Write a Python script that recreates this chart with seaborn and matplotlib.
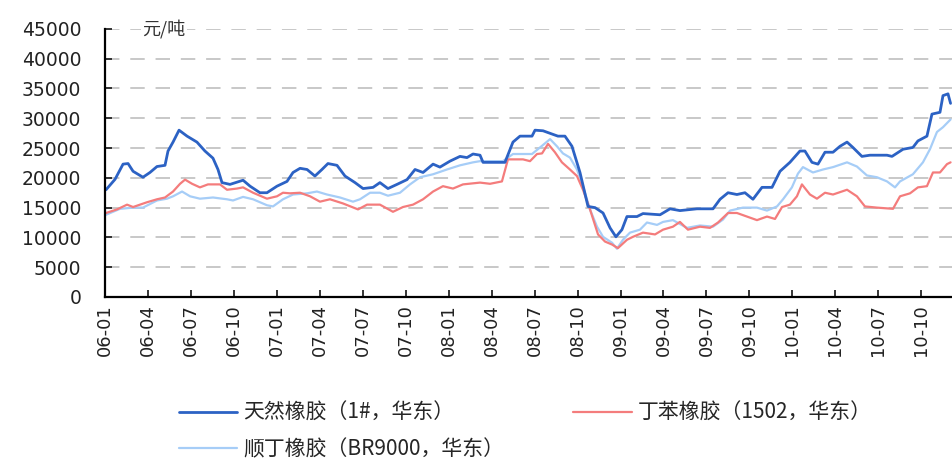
import pandas as pd
import matplotlib
matplotlib.use("Agg")
import matplotlib.pyplot as plt
import seaborn as sns

# months since 2006-01 and prices (yuan / ton)
nat_months = [0.07, 0.70, 1.26, 1.61, 1.96, 2.65, 3.14, 3.63, 4.19, 4.40,
              4.75, 5.17, 5.73, 6.42, 6.98, 7.54, 7.89, 8.17, 8.73, 9.64,
              10.13, 10.82, 11.31, 12.01, 12.71, 13.13, 13.62, 14.11, 14.66, 15.15,
              15.57, 16.20, 16.76, 17.46, 18.02, 18.72, 19.20, 19.76, 20.39, 21.09,
              21.65, 22.21, 22.91, 23.39, 24.09, 24.79, 25.28, 25.70, 26.19, 26.40,
              27.93, 28.49, 28.98, 29.82, 30.03, 30.59, 31.28, 31.63, 32.12, 32.61,
              33.17, 33.73, 34.22, 34.78, 35.27, 35.68, 36.10, 36.45, 37.15, 37.57,
              38.76, 39.46, 40.15, 41.34, 42.46, 42.95, 43.51, 44.13, 44.69, 45.25,
              45.88, 46.58, 47.14, 47.83, 48.53, 48.88, 49.37, 49.79, 50.28, 50.84,
              51.33, 51.82, 52.23, 52.86, 53.42, 54.61, 54.96, 55.73, 56.42, 56.77,
              57.40, 57.75, 58.31, 58.52, 58.87, 59.05]
nat_price = [18000, 19750, 22300, 22400, 21100, 20100, 20900, 21900, 22100, 24500,
             26000, 28000, 27000, 26000, 24500, 23300, 21400, 19200, 18900, 19600,
             18600, 17500, 17500, 18600, 19400, 20900, 21600, 21400, 20300, 21400,
             22400, 22100, 20300, 19200, 18200, 18400, 19200, 18200, 18900, 19700,
             21400, 20900, 22300, 21800, 22800, 23600, 23400, 24000, 23800, 22600,
             22600, 26000, 27000, 27000, 28000, 27900, 27300, 27000, 27000, 25300,
             20900, 15200, 15000, 14100, 11600, 10100, 11300, 13500, 13500, 14000,
             13800, 14800, 14500, 14800, 14800, 16400, 17500, 17200, 17500, 16400,
             18400, 18400, 21100, 22600, 24500, 24500, 22600, 22300, 24300, 24300,
             25300, 26000, 25100, 23600, 23800, 23800, 23600, 24800, 25100, 26200,
             27000, 30700, 31000, 33800, 34100, 32500]

sbr_months = [0.07, 0.84, 1.54, 1.96, 2.93, 3.63, 4.19, 4.75, 5.24, 5.59,
              6.08, 6.63, 7.19, 8.03, 8.52, 9.22, 9.64, 10.34, 11.31, 12.01,
              12.43, 12.92, 13.62, 14.32, 15.01, 15.71, 16.62, 17.67, 18.30, 19.20,
              20.11, 20.81, 21.51, 22.21, 22.91, 23.60, 24.30, 25.00, 26.19, 26.89,
              27.72, 28.14, 29.19, 29.68, 30.17, 30.52, 30.94, 31.42, 31.91, 32.47,
              32.96, 33.38, 33.87, 34.43, 34.92, 35.41, 35.82, 36.45, 36.87, 37.57,
              38.41, 38.97, 39.66, 40.15, 40.71, 41.55, 42.25, 42.81, 43.51, 44.13,
              44.83, 45.53, 46.23, 46.79, 47.28, 47.83, 48.32, 48.67, 49.23, 49.72,
              50.28, 50.84, 51.82, 52.51, 53.07, 53.91, 55.03, 55.52, 56.22, 56.77,
              57.40, 57.82, 58.31, 58.80, 59.05]
sbr_price = [14100, 14700, 15500, 15100, 15900, 16400, 16700, 17700, 19000, 19700,
             19000, 18400, 18900, 18900, 18000, 18200, 18400, 17500, 16500, 16900,
             17500, 17400, 17500, 16900, 16000, 16400, 15700, 14700, 15500, 15500,
             14300, 15100, 15500, 16400, 17700, 18600, 18200, 18900, 19200, 19000,
             19400, 23100, 23100, 22800, 24000, 24100, 25700, 24300, 22600, 21400,
             20300, 18000, 14700, 10500, 9300, 8800, 8200, 9600, 10100, 10800,
             10500, 11300, 11800, 12600, 11300, 11800, 11600, 12500, 14100, 14100,
             13500, 12900, 13500, 13100, 15100, 15500, 16900, 18900, 17200, 16500,
             17500, 17200, 18000, 16900, 15200, 15000, 14800, 16900, 17400, 18400,
             18600, 20900, 20900, 22300, 22600]

br_months = [0.07, 1.05, 1.96, 2.65, 3.63, 4.33, 4.75, 5.38, 5.94, 6.63,
             7.54, 8.52, 8.94, 9.64, 10.34, 11.31, 11.73, 12.43, 13.13, 14.11,
             14.80, 15.50, 16.41, 17.32, 17.81, 18.51, 19.20, 19.76, 20.60, 21.30,
             22.00, 22.91, 23.88, 24.79, 25.70, 26.19, 26.89, 27.79, 28.49, 29.82,
             30.38, 31.08, 31.56, 31.98, 32.47, 32.96, 33.38, 33.87, 34.36, 34.78,
             35.41, 35.75, 36.17, 36.66, 37.36, 37.85, 38.55, 38.97, 39.66, 40.64,
             41.55, 42.46, 43.16, 43.65, 44.55, 45.53, 46.23, 46.93, 47.35, 47.97,
             48.39, 48.74, 49.44, 50.14, 50.84, 51.82, 52.51, 53.21, 53.91, 54.61,
             55.17, 55.52, 56.42, 57.12, 57.61, 58.10, 58.52, 59.05]
br_price = [13800, 14800, 15000, 15000, 16200, 16500, 16900, 17700, 16900, 16500,
            16700, 16400, 16200, 16800, 16400, 15400, 15200, 16400, 17200, 17400,
            17700, 17200, 16700, 16000, 16400, 17500, 17500, 17000, 17500, 18900,
            20100, 20600, 21400, 22100, 22600, 22800, 22800, 22800, 24000, 24000,
            25100, 26500, 25300, 24100, 23400, 21400, 18600, 14700, 11800, 10100,
            9100, 8100, 9600, 10800, 11300, 12500, 12100, 12600, 12900, 11600,
            12000, 11800, 13000, 14500, 15000, 15000, 14500, 15200, 16400, 18400,
            20700, 21800, 20900, 21400, 21800, 22600, 21900, 20400, 20100, 19400,
            18400, 19400, 20600, 22600, 24800, 27700, 28500, 29800]

series_names = ['天然橡胶（1#，华东）', '丁苯橡胶（1502，华东）', '顺丁橡胶（BR9000，华东）']
tick_months = list(range(0, 58, 3))
tick_labels = ['06-01', '06-04', '06-07', '06-10', '07-01', '07-04', '07-07', '07-10',
               '08-01', '08-04', '08-07', '08-10', '09-01', '09-04', '09-07', '09-10',
               '10-01', '10-04', '10-07', '10-10']
y_ticks = list(range(0, 45001, 5000))

df = pd.concat([
    pd.DataFrame({'month': nat_months, 'price': nat_price, 'series': series_names[0]}),
    pd.DataFrame({'month': sbr_months, 'price': sbr_price, 'series': series_names[1]}),
    pd.DataFrame({'month': br_months, 'price': br_price, 'series': series_names[2]}),
])

sns.set_style('white')
plt.rcParams['font.family'] = ['DejaVu Sans', 'Noto Sans CJK SC']

fig = plt.figure(figsize=(9.52, 4.59), dpi=100)
ax = fig.add_axes([0.1103, 0.353, 0.8897, 0.584])

colors = {series_names[0]: '#2c62c4', series_names[1]: '#f47c7c', series_names[2]: '#a6cdf7'}
widths = {series_names[0]: 2.0, series_names[1]: 1.6, series_names[2]: 1.6}
# draw light lines first so the dark one sits on top
for name in [series_names[2], series_names[1], series_names[0]]:
    sns.lineplot(data=df[df['series'] == name], x='month', y='price', ax=ax,
                 color=colors[name], linewidth=widths[name], label=name, legend=False)

ax.set_xlim(0, 59.15)
ax.set_ylim(0, 45000)
ax.set_yticks(y_ticks)
ax.set_yticklabels([str(v) for v in y_ticks])
ax.set_xticks(tick_months)
ax.set_xticklabels(tick_labels, rotation=90)
ax.set_xlabel('')
ax.set_ylabel('')

ax.grid(axis='y', color='#c4c4c4', linestyle=(0, (8, 6)), linewidth=1.3)
ax.set_axisbelow(True)
for s in ['top', 'right']:
    ax.spines[s].set_visible(False)
for s in ['left', 'bottom']:
    ax.spines[s].set_color('black')
    ax.spines[s].set_linewidth(1.6)

ax.tick_params(axis='y', direction='in', length=5, width=1.3, pad=17,
               labelsize=13.5, labelcolor='#222222', left=True)
ax.tick_params(axis='x', direction='in', length=5, width=1.3, pad=5,
               labelsize=13, labelcolor='#222222', bottom=True)

ax.text(2.6, 45000, '元/吨', ha='left', va='center', fontsize=13,
        family=['Noto Sans CJK SC', 'DejaVu Sans'], color='#333333',
        bbox=dict(facecolor='white', edgecolor='none', pad=1))

handles, labels = ax.get_legend_handles_labels()
order = [labels.index(series_names[0]), labels.index(series_names[2]), labels.index(series_names[1])]
fig.legend([handles[i] for i in order], [labels[i] for i in order],
           ncol=2, loc='upper left', bbox_to_anchor=(0.188, 0.124), frameon=False,
           prop={'family': ['Noto Sans CJK SC', 'DejaVu Sans'], 'size': 15},
           handlelength=2.8, handletextpad=0.3, columnspacing=3.3,
           labelspacing=0.7, borderaxespad=0, borderpad=0)

fig.savefig('out.png', dpi=100)
